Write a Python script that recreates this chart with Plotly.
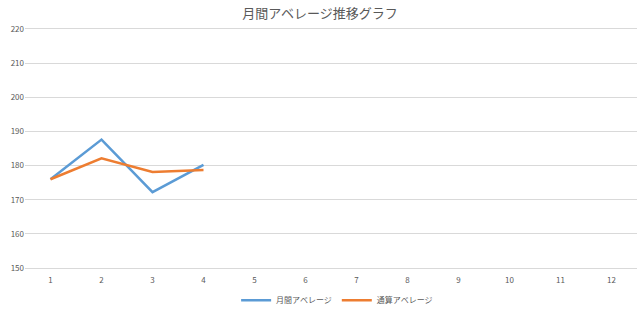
import plotly.graph_objects as go

months = ["1", "2", "3", "4", "5", "6", "7", "8", "9", "10", "11", "12"]
monthly_avg = [176.0, 187.6, 172.2, 180.2]
cumulative_avg = [176.0, 182.1, 178.1, 178.7]

fig = go.Figure()
fig.add_trace(go.Scatter(x=months[:len(monthly_avg)], y=monthly_avg, mode="lines",
                         name="月間アベレージ", line=dict(color="#5b9bd5", width=2.5)))
fig.add_trace(go.Scatter(x=months[:len(cumulative_avg)], y=cumulative_avg, mode="lines",
                         name="通算アベレージ", line=dict(color="#ed7d31", width=2.5)))

fig.update_layout(
    width=640, height=309,
    margin=dict(l=25, r=3, t=29, b=41, autoexpand=False),
    paper_bgcolor="white", plot_bgcolor="white",
    font=dict(family="Noto Sans CJK JP", color="#595959", size=8),
    title=dict(text="月間アベレージ推移グラフ", x=0.5, xanchor="center", y=0.955, yanchor="middle",
               font=dict(size=13, color="#595959")),
    showlegend=True,
    legend=dict(orientation="h", x=0.51, xanchor="center", yref="container", y=0.028, yanchor="middle",
                font=dict(size=8, color="#595959"), itemwidth=30, tracegroupgap=0),
    xaxis=dict(type="category", categoryorder="array", categoryarray=months,
               range=[-0.5, 11.5], showgrid=False, showline=True, mirror=True, linecolor="#d9d9d9",
               ticks="", ticklabelstandoff=4, tickfont=dict(size=8, color="#595959")),
    yaxis=dict(range=[150, 220], dtick=10, showgrid=True, gridcolor="#d9d9d9",
               zeroline=False, showline=False, ticks="", tickfont=dict(size=8, color="#595959")),
)

fig.write_html("out.html")
